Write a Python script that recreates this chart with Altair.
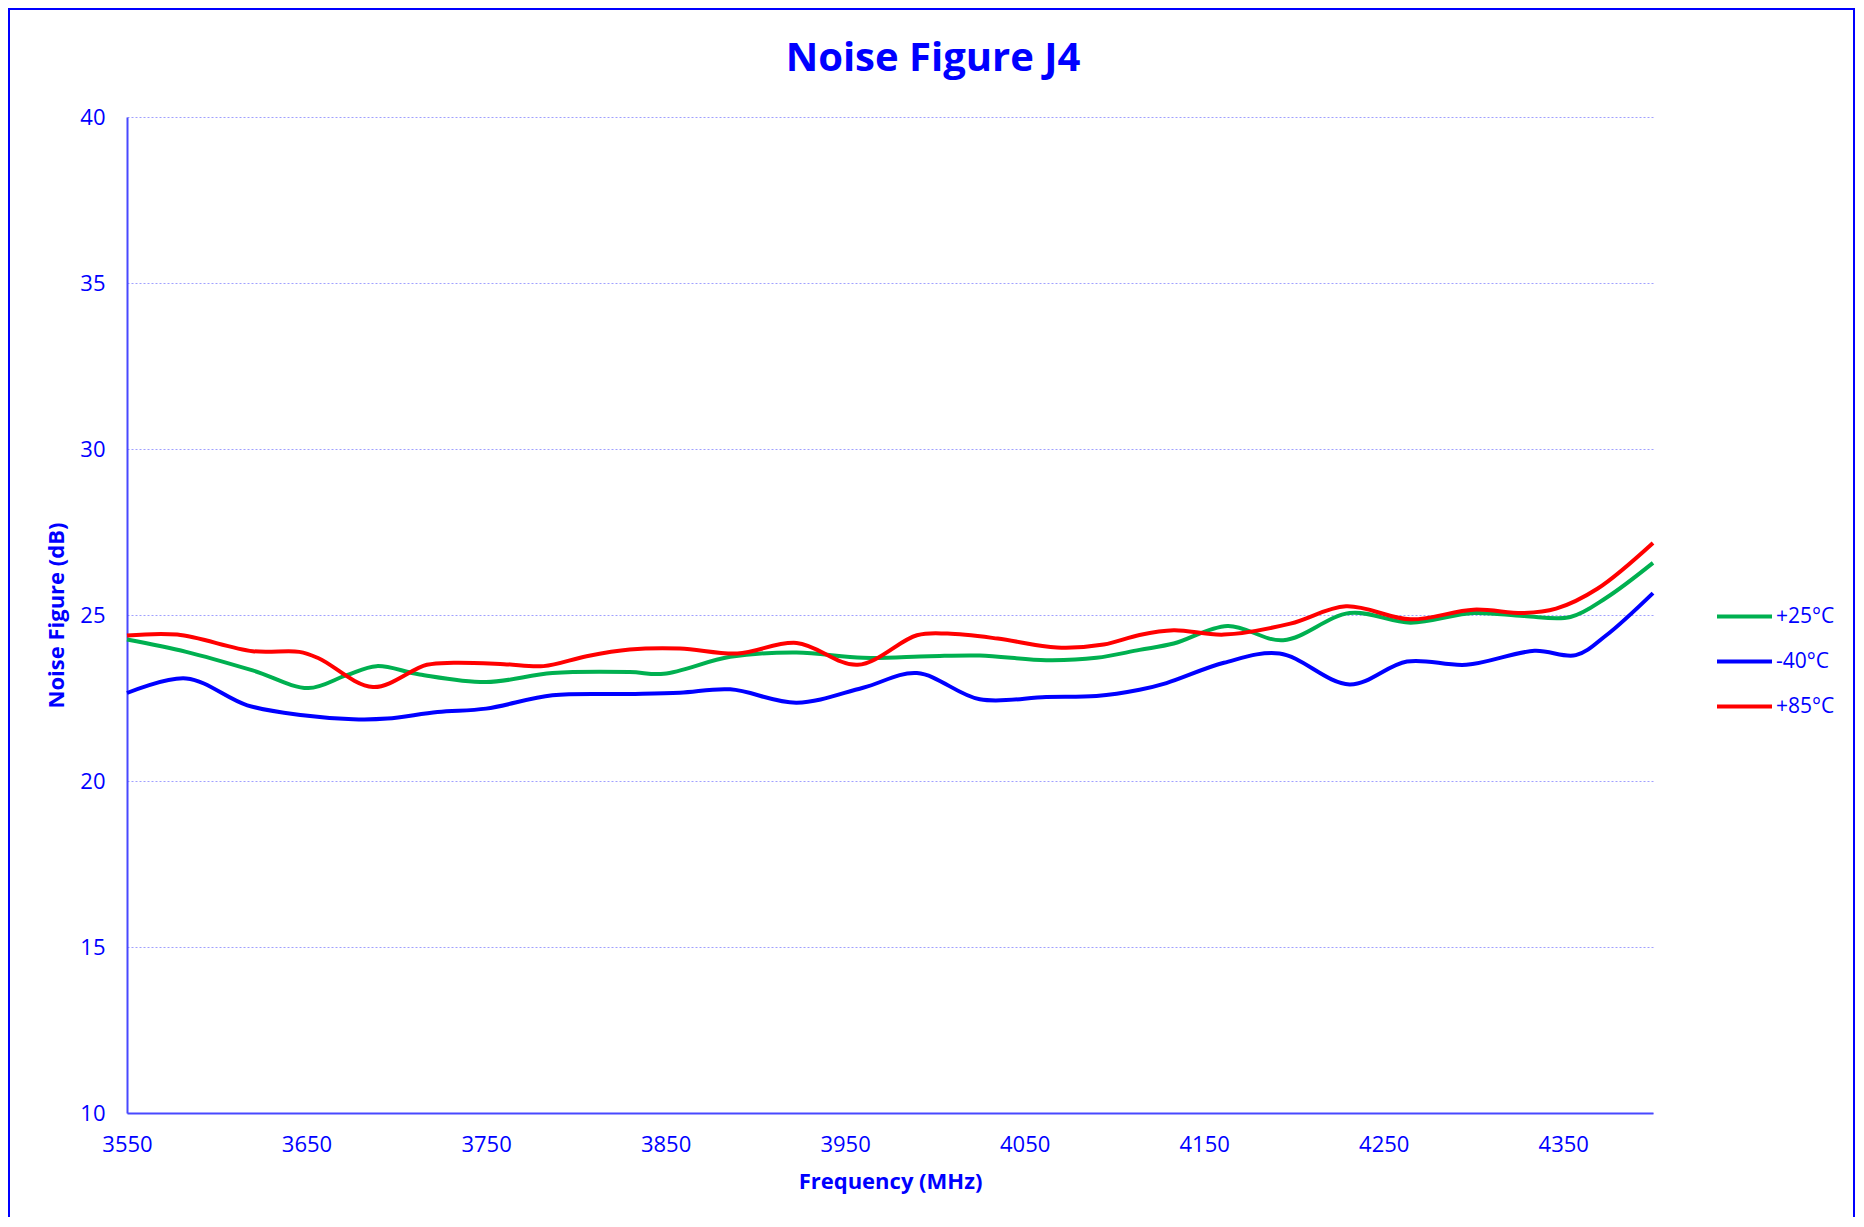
import altair as alt
import pandas as pd

series_names = ["+25°C", "-40°C", "+85°C"]
series_colors = ["#00B050", "#0000FF", "#FF0000"]

freq_25 = [3550, 3583, 3620, 3651, 3672, 3689, 3713, 3750, 3787, 3830, 3849, 3886, 3923, 3960,
           3997, 4025, 4062, 4090, 4114, 4133, 4163, 4194, 4231, 4265, 4300, 4328, 4354, 4374, 4400]
nf_25 = [24.26, 23.89, 23.33, 22.80, 23.18, 23.46, 23.21, 22.98, 23.25, 23.28, 23.23, 23.74, 23.87, 23.71,
         23.76, 23.78, 23.64, 23.71, 23.95, 24.14, 24.67, 24.24, 25.06, 24.77, 25.06, 24.97, 24.94, 25.52, 26.57]

freq_m40 = [3550, 3583, 3617, 3648, 3676, 3695, 3723, 3750, 3787, 3830, 3858, 3886, 3923, 3960,
            3990, 4025, 4062, 4090, 4114, 4129, 4161, 4192, 4231, 4263, 4296, 4334, 4357, 4374, 4400]
nf_m40 = [22.65, 23.09, 22.28, 21.98, 21.86, 21.88, 22.08, 22.18, 22.58, 22.62, 22.66, 22.76, 22.36, 22.81,
          23.25, 22.46, 22.53, 22.56, 22.75, 22.95, 23.56, 23.84, 22.91, 23.60, 23.50, 23.92, 23.79, 24.39, 25.66]

freq_85 = [3550, 3578, 3620, 3646, 3657, 3687, 3717, 3732, 3760, 3782, 3806, 3830, 3858, 3890, 3923, 3957,
           3990, 4007, 4035, 4068, 4094, 4114, 4133, 4161, 4198, 4229, 4265, 4300, 4328, 4346, 4369, 4400]
nf_85 = [24.38, 24.41, 23.91, 23.89, 23.69, 22.83, 23.50, 23.56, 23.52, 23.46, 23.76, 23.96, 23.99, 23.84, 24.16, 23.50,
         24.39, 24.44, 24.29, 24.02, 24.11, 24.40, 24.54, 24.41, 24.74, 25.26, 24.87, 25.16, 25.06, 25.19, 25.79, 27.17]

x_ticks = [3550, 3650, 3750, 3850, 3950, 4050, 4150, 4250, 4350]
y_ticks = [10, 15, 20, 25, 30, 35, 40]
chart_title = "Noise Figure J4"

rows = []
for name, fs, vs in zip(series_names, [freq_25, freq_m40, freq_85], [nf_25, nf_m40, nf_85]):
    for f, v in zip(fs, vs):
        rows.append({"series": name, "freq": f, "nf": v})
df = pd.DataFrame(rows)

FONT = "Open Sans"
BLUE = "#0000FF"

lines = alt.Chart(df).mark_line(interpolate="catmull-rom", strokeWidth=4).encode(
    x=alt.X("freq:Q",
            scale=alt.Scale(domain=[3550, 4400], nice=False, zero=False),
            axis=alt.Axis(values=x_ticks, format="d", title="Frequency (MHz)", grid=False, ticks=False,
                          labelPadding=21, titlePadding=16, labelFlush=False)),
    y=alt.Y("nf:Q",
            scale=alt.Scale(domain=[10, 40], nice=False, zero=False),
            axis=alt.Axis(values=y_ticks, title="Noise Figure (dB)", grid=True, ticks=False,
                          labelPadding=22, titlePadding=11)),
    color=alt.Color("series:N",
                    scale=alt.Scale(domain=series_names, range=series_colors),
                    sort=series_names,
                    legend=alt.Legend(title=None, orient="none", legendX=1588, legendY=470,
                                      symbolType="stroke", symbolSize=3025, symbolStrokeWidth=4,
                                      labelFont=FONT, labelFontSize=21, labelColor=BLUE,
                                      labelOffset=2, rowPadding=5)),
)

border = alt.Chart(pd.DataFrame({"k": [0]})).mark_rect(
    fillOpacity=0, stroke=BLUE, strokeWidth=2
).encode(
    x=alt.value(-118), x2=alt.value(1727), y=alt.value(-108), y2=alt.value(1120)
)

title = alt.Chart(pd.DataFrame({"t": [chart_title]})).mark_text(
    font=FONT, fontSize=40, fontWeight="bold", color=BLUE, align="center", baseline="alphabetic"
).encode(
    text="t:N", x=alt.value(806), y=alt.value(-46)
)

chart = alt.layer(border, lines, title).properties(
    width=1526,
    height=996,
    padding={"left": 119, "top": 109, "right": 202, "bottom": 104},
    autosize=alt.AutoSizeParams(type="none"),
).configure_view(stroke=None).configure_axis(
    labelFont=FONT, labelFontSize=22, labelColor=BLUE,
    titleFont=FONT, titleFontSize=22, titleFontWeight="bold", titleColor=BLUE,
    domainColor="#4848FF", domainWidth=2,
    gridColor="#A0A0FF", gridDash=[2, 2], gridWidth=1,
)

chart.save("out.html", embed_options={"renderer": "svg", "actions": False})
